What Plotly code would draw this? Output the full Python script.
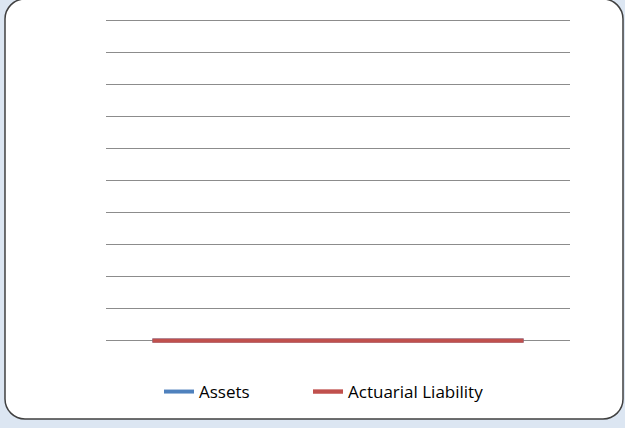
import plotly.graph_objects as go

categories = ["1", "2", "3", "4", "5"]
assets = [0, 0, 0, 0, 0]
actuarial_liability = [0, 0, 0, 0, 0]
series_names = ["Assets", "Actuarial Liability"]

W, H = 625, 428
L, R, T, B = 106, 55, 14, 81
pw, ph = W - L - R, H - T - B

def px_x(x):
    return (x - L) / pw

def px_y(y):
    return (H - B - y) / ph

# rounded frame in pixel terms
x0, x1, y0, y1, r = 5, 623, -1, 419, 20
rx, ry = r / pw, r / ph
X0, X1 = px_x(x0), px_x(x1)
Yt, Yb = px_y(y0), px_y(y1)
k = 0.5523
path = (
    f"M {X0+rx},{Yt} L {X1-rx},{Yt} "
    f"C {X1-rx+k*rx},{Yt} {X1},{Yt-ry+k*ry} {X1},{Yt-ry} "
    f"L {X1},{Yb+ry} "
    f"C {X1},{Yb+ry-k*ry} {X1-rx+k*rx},{Yb} {X1-rx},{Yb} "
    f"L {X0+rx},{Yb} "
    f"C {X0+rx-k*rx},{Yb} {X0},{Yb+ry-k*ry} {X0},{Yb+ry} "
    f"L {X0},{Yt-ry} "
    f"C {X0},{Yt-ry+k*ry} {X0+rx-k*rx},{Yt} {X0+rx},{Yt} Z"
)

fig = go.Figure()
fig.add_trace(go.Scatter(x=categories, y=assets, mode="lines", name=series_names[0],
                         line=dict(color="#4f81bd", width=4), legend="legend"))
fig.add_trace(go.Scatter(x=categories, y=actuarial_liability, mode="lines", name=series_names[1],
                         line=dict(color="#c0504d", width=4.4), legend="legend2"))

leg_common = dict(orientation="h", xanchor="left", y=px_y(392), yanchor="middle",
                  bgcolor="rgba(0,0,0,0)", font=dict(size=17), itemwidth=30)

fig.update_layout(
    width=W, height=H,
    margin=dict(l=L, r=R, t=T, b=B, autoexpand=False),
    paper_bgcolor="#dce6f2",
    plot_bgcolor="rgba(0,0,0,0)",
    font=dict(family="Open Sans, Liberation Sans, sans-serif", size=17, color="#000000"),
    showlegend=True,
    legend=dict(x=px_x(159), **leg_common),
    legend2=dict(x=px_x(308), **leg_common),
    shapes=[dict(type="path", path=path, xref="paper", yref="paper", layer="below",
                 fillcolor="#ffffff", line=dict(color="#404040", width=1.5))],
    xaxis=dict(type="category", range=[-0.5, 4.5], showgrid=False, showticklabels=False,
               zeroline=False, showline=False, ticks=""),
    yaxis=dict(range=[-0.2, 10.2], tick0=0, dtick=1, showgrid=True, gridcolor="#8c8c8c",
               gridwidth=1, showticklabels=False, zeroline=False, showline=False, ticks=""),
)

fig.write_html("out.html", config={"displayModeBar": False},
               post_script="document.body.style.margin='0';")
